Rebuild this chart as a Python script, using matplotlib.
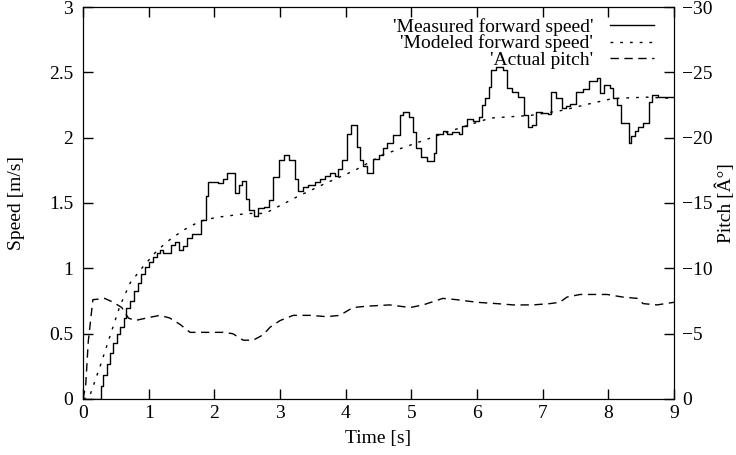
import matplotlib
matplotlib.use("Agg")
import matplotlib.pyplot as plt

plt.rcParams['font.family'] = ['Liberation Serif', 'DejaVu Serif']
plt.rcParams['font.size'] = 14

# measured forward speed (step data, value held until next time)
meas_t = [0.00, 0.27, 0.31, 0.36, 0.41, 0.46, 0.51, 0.56, 0.62, 0.66, 0.71, 0.77, 0.83, 0.88, 0.94,
          1.00, 1.06, 1.13, 1.17, 1.22, 1.34, 1.40, 1.46, 1.52, 1.58, 1.66, 1.80, 1.87, 1.91,
          2.06, 2.13, 2.20, 2.31, 2.37, 2.42, 2.48, 2.53, 2.61, 2.66, 2.76, 2.83, 2.90, 2.98,
          3.06, 3.14, 3.23, 3.28, 3.35, 3.43, 3.53, 3.61, 3.68, 3.76, 3.84, 3.88, 3.95,
          4.02, 4.08, 4.17, 4.22, 4.27, 4.33, 4.41, 4.50, 4.57, 4.63, 4.72, 4.82, 4.88, 4.97,
          5.02, 5.07, 5.14, 5.24, 5.34, 5.38, 5.48, 5.55, 5.62, 5.72, 5.77, 5.84, 5.94,
          6.03, 6.07, 6.12, 6.18, 6.22, 6.29, 6.40, 6.46, 6.53, 6.63, 6.71, 6.77, 6.84, 6.90, 6.99,
          7.08, 7.13, 7.21, 7.29, 7.36, 7.41, 7.50, 7.62, 7.70, 7.83, 7.88, 7.94,
          8.02, 8.07, 8.13, 8.20, 8.31, 8.35, 8.40, 8.45, 8.52, 8.62, 8.66, 8.76, 9.00]
meas_v = [0.00, 0.10, 0.18, 0.27, 0.35, 0.43, 0.50, 0.55, 0.62, 0.70, 0.75, 0.83, 0.89, 0.96, 1.01,
          1.05, 1.09, 1.12, 1.14, 1.12, 1.18, 1.20, 1.14, 1.17, 1.23, 1.26, 1.37, 1.55, 1.66,
          1.65, 1.68, 1.73, 1.58, 1.64, 1.67, 1.53, 1.45, 1.40, 1.46, 1.47, 1.52, 1.70, 1.83,
          1.87, 1.83, 1.68, 1.59, 1.62, 1.64, 1.66, 1.68, 1.71, 1.73, 1.71, 1.76, 1.83,
          2.03, 2.10, 1.93, 1.83, 1.78, 1.73, 1.84, 1.87, 1.92, 1.96, 2.02, 2.17, 2.20, 2.16,
          2.04, 1.92, 1.85, 1.82, 1.88, 2.03, 2.05, 2.03, 2.04, 2.03, 2.09, 2.14, 2.13,
          2.16, 2.25, 2.30, 2.39, 2.52, 2.54, 2.52, 2.38, 2.35, 2.31, 2.17, 2.08, 2.10, 2.20, 2.19,
          2.18, 2.35, 2.30, 2.23, 2.24, 2.26, 2.35, 2.37, 2.43, 2.46, 2.34, 2.40,
          2.38, 2.30, 2.25, 2.11, 1.96, 2.01, 2.05, 2.08, 2.11, 2.27, 2.33, 2.31, 2.31]

# modeled forward speed
model_t = [0.00, 0.10, 0.26, 0.41, 0.56, 0.72, 0.91, 1.10, 1.27, 1.52, 1.78, 2.03, 2.51, 2.77,
           3.27, 3.69, 4.14, 4.57, 5.08, 5.59, 6.20, 6.81, 7.31, 7.72, 8.07, 8.58, 9.00]
model_v = [0.00, 0.02, 0.25, 0.48, 0.71, 0.89, 1.01, 1.12, 1.20, 1.29, 1.36, 1.39, 1.42, 1.42,
           1.55, 1.65, 1.75, 1.87, 1.96, 2.05, 2.15, 2.17, 2.21, 2.26, 2.30, 2.31, 2.30]

# actual pitch (deg)
pitch_t = [0.00, 0.04, 0.08, 0.15, 0.33, 0.46, 0.59, 0.69, 0.79, 0.97, 1.17, 1.32, 1.48, 1.63,
           1.83, 1.98, 2.13, 2.28, 2.44, 2.59, 2.74, 2.85, 3.00, 3.20, 3.46, 3.71, 3.91, 4.11,
           4.32, 4.67, 4.98, 5.18, 5.48, 5.69, 6.00, 6.30, 6.55, 6.85, 7.11, 7.26, 7.37, 7.57,
           7.83, 7.98, 8.22, 8.44, 8.53, 8.74, 9.00]
pitch_v = [0.0, -1.0, -4.4, -7.6, -7.7, -7.4, -7.0, -6.2, -6.0, -6.2, -6.4, -6.2, -5.7, -5.1,
           -5.1, -5.1, -5.1, -5.0, -4.5, -4.5, -4.9, -5.5, -6.0, -6.4, -6.4, -6.3, -6.4, -7.0,
           -7.1, -7.2, -7.0, -7.2, -7.7, -7.6, -7.4, -7.3, -7.2, -7.2, -7.3, -7.4, -7.8, -8.0,
           -8.0, -8.0, -7.8, -7.7, -7.3, -7.2, -7.4]

fig = plt.figure(figsize=(7.36, 4.55), dpi=100)
ax = fig.add_axes([0.1128, 0.1231, 0.803, 0.8615])
ax2 = ax.twinx()

l1, = ax.step(meas_t, meas_v, where='post', color='black', lw=1.0,
              label="'Measured forward speed'")
l2, = ax.plot(model_t, model_v, color='black', lw=1.0, linestyle=(0, (2, 5)),
              label="'Modeled forward speed'")
l3, = ax2.plot(pitch_t, pitch_v, color='black', lw=1.0, linestyle=(0, (6, 4)),
               label="'Actual pitch'")

ax.set_xlim(0, 9)
ax.set_ylim(0, 3)
ax2.set_ylim(0, -30)
ax.set_xticks(range(0, 10))
ax.set_yticks([0, 0.5, 1, 1.5, 2, 2.5, 3])
ax.set_yticklabels(['0', '0.5', '1', '1.5', '2', '2.5', '3'])
ax2.set_yticks([0, -5, -10, -15, -20, -25, -30])

ax.tick_params(axis='y', direction='in', length=7, right=False, width=1, pad=7)
ax.tick_params(axis='x', direction='in', length=7, top=True, width=1, pad=4)
ax2.tick_params(direction='in', length=7, width=1, pad=6)
ax.set_xlabel('Time [s]', labelpad=6)
ax.set_ylabel('Speed [m/s]', labelpad=17)
ax2.set_ylabel('Pitch [Â°]', labelpad=2)

ax.legend(handles=[l1, l2, l3], loc='upper right', bbox_to_anchor=(0.985, 1.0),
          frameon=False, markerfirst=False, handlelength=2.3, labelspacing=-0.05,
          borderaxespad=0.25, handletextpad=0.85, alignment='right', borderpad=0.3)

fig.savefig('out.png', dpi=100)
